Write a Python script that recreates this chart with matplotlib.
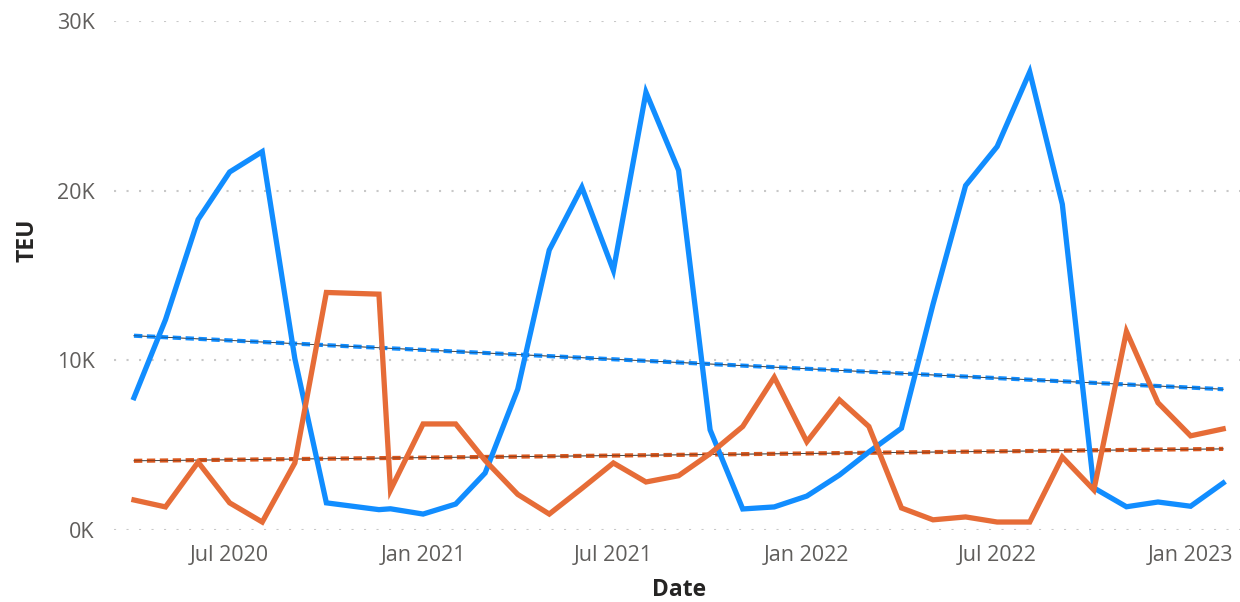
import numpy as np
import pandas as pd
import matplotlib
matplotlib.use("Agg")
import matplotlib.pyplot as plt
import matplotlib.dates as mdates
from matplotlib.ticker import FuncFormatter

plt.rcParams['font.family'] = ['Open Sans', 'DejaVu Sans']

# Data (TEU, thousands)
dates = pd.to_datetime([
    "2020-04-01", "2020-05-01", "2020-06-01", "2020-07-01", "2020-08-01", "2020-09-01",
    "2020-10-01", "2020-11-20", "2020-12-01", "2021-01-01", "2021-02-01", "2021-03-01",
    "2021-04-01", "2021-05-01", "2021-06-01", "2021-07-01", "2021-08-01", "2021-09-01",
    "2021-10-01", "2021-11-01", "2021-12-01", "2022-01-01", "2022-02-01", "2022-03-01",
    "2022-04-01", "2022-05-01", "2022-06-01", "2022-07-01", "2022-08-01", "2022-09-01",
    "2022-10-01", "2022-11-01", "2022-12-01", "2023-01-01", "2023-02-01",
])
blue_k = [7.8, 12.4, 18.3, 21.1, 22.3, 10.1, 1.6, 1.2, 1.25, 0.94, 1.53, 3.36,
          8.3, 16.5, 20.2, 15.3, 25.8, 21.2, 5.9, 1.24, 1.36, 2.0, 3.24, 4.6,
          6.0, 13.3, 20.3, 22.6, 27.0, 19.2, 2.48, 1.37, 1.65, 1.4, 2.77]
orange_k = [1.77, 1.36, 4.0, 1.6, 0.47, 3.95, 14.0, 13.9, 2.36, 6.25, 6.25, 4.1,
            2.1, 0.94, 2.45, 3.95, 2.83, 3.2, 4.5, 6.1, 9.0, 5.2, 7.67, 6.1,
            1.3, 0.6, 0.77, 0.47, 0.47, 4.3, 2.36, 11.7, 7.5, 5.55, 5.96]
tick_dates = pd.to_datetime(["2020-07-01", "2021-01-01", "2021-07-01",
                             "2022-01-01", "2022-07-01", "2023-01-01"])

blue = np.array(blue_k) * 1000
orange = np.array(orange_k) * 1000

BLUE = "#118DFF"
ORANGE = "#E66C37"
ORANGE_TREND = "#D9581F"

fig = plt.figure(figsize=(12.4, 6.02), dpi=100)
ax = fig.add_axes([114 / 1240, 72 / 602, 1126 / 1240, 509 / 602])

xnum = mdates.date2num(dates)

# trend lines (least squares on the series)
for y, col in [(blue, BLUE), (orange, ORANGE_TREND)]:
    k, b = np.polyfit(xnum, y, 1)
    xt = np.array([xnum[0], xnum[-1]])
    ax.plot(xt, k * xt + b, color="#333333", lw=0.7, alpha=0.75, zorder=3)
    ax.plot(xt, k * xt + b, color=col, lw=3.0, dashes=(2.0, 1.1), zorder=3.5,
            dash_capstyle='butt')
    ax.plot(xt, k * xt + b, color="#1a1a1a", lw=0.5, alpha=0.55, zorder=4)

ax.plot(xnum, blue, color=BLUE, lw=3.8, zorder=5, solid_joinstyle='miter')
ax.plot(xnum, orange, color=ORANGE, lw=3.8, zorder=5, solid_joinstyle='miter')

ax.set_ylim(0, 30000)
ax.set_yticks([0, 10000, 20000, 30000])
ax.yaxis.set_major_formatter(FuncFormatter(lambda v, p: f"{int(v / 1000)}K"))
ax.set_xlim(mdates.date2num(pd.Timestamp("2020-03-13")),
            mdates.date2num(pd.Timestamp("2023-02-17")))
ax.set_xticks(mdates.date2num(tick_dates))
ax.xaxis.set_major_formatter(mdates.DateFormatter("%b %Y"))

ax.grid(axis='y', color="#C8C8C8", lw=1.5, linestyle=(0, (1, 5)))
ax.set_axisbelow(True)
for s in ax.spines.values():
    s.set_visible(False)
ax.tick_params(axis='both', length=0, labelsize=15.5, labelcolor="#605E5C")
ax.tick_params(axis='y', pad=14)
ax.tick_params(axis='x', pad=11)

fig.text(28 / 1240, 1 - 240 / 602, "TEU", rotation=90, ha='center', va='center',
         fontsize=16.5, fontweight='bold', color="#252423")
fig.text(679 / 1240, 1 - 590 / 602, "Date", ha='center', va='center',
         fontsize=16.5, fontweight='bold', color="#252423")

fig.savefig("out.png", dpi=100)
